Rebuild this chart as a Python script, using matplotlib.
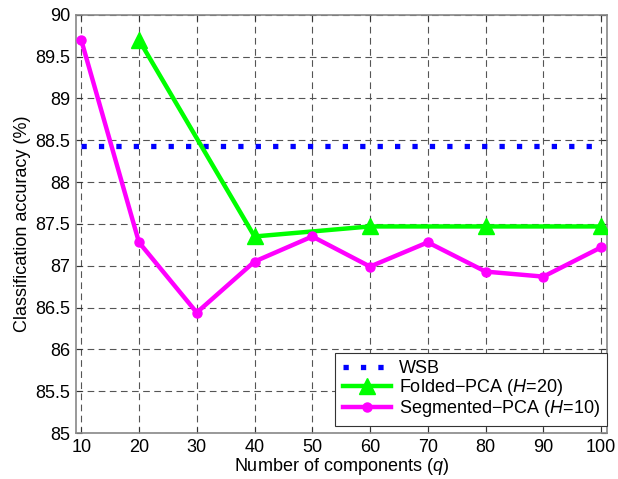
import numpy as np
import matplotlib.pyplot as plt

plt.rcParams['font.family'] = ['Liberation Sans', 'DejaVu Sans']
plt.rcParams['mathtext.fontset'] = 'custom'
plt.rcParams['mathtext.it'] = 'Liberation Sans:italic'
plt.rcParams['mathtext.rm'] = 'Liberation Sans'

# === DATA ===
q_all = [10, 20, 30, 40, 50, 60, 70, 80, 90, 100]
wsb_q = [10, 100]
wsb_acc = [88.43, 88.43]
folded_q = [20, 40, 60, 80, 100]
folded_acc = [89.70, 87.35, 87.47, 87.47, 87.47]
segmented_acc = [89.70, 87.28, 86.44, 87.05, 87.35, 86.99, 87.28, 86.93, 86.87, 87.22]

fig = plt.figure(figsize=(6.18, 4.79), dpi=100)
ax = fig.add_axes([0.123, 0.096, 0.859, 0.873])

ax.plot(wsb_q, wsb_acc, color='#0000ff', linestyle=(0, (1, 2.3)), linewidth=3.8,
        dash_capstyle='butt', label='WSB', zorder=3)
ax.plot(folded_q, folded_acc, color='#00ff00', linewidth=3.2, marker='^',
        markersize=11, label='Folded\u2212PCA ($\\mathit{H}$=20)', zorder=4)
ax.plot(q_all, segmented_acc, color='#ff00ff', linewidth=3.2, marker='o',
        markersize=6.5, label='Segmented\u2212PCA ($\\mathit{H}$=10)', zorder=5)

ax.set_xlim(9.1, 101)
ax.set_ylim(85, 90)
ax.set_xticks(q_all)
ax.set_yticks(np.arange(85, 90.01, 0.5))
ax.set_yticklabels(['85', '85.5', '86', '86.5', '87', '87.5', '88', '88.5', '89', '89.5', '90'])
ax.tick_params(direction='in', top=True, right=True, labelsize=13, length=4,
               color='#333333', pad=4)
ax.grid(True, color='#555555', linestyle=(0, (6, 4)), linewidth=0.8)
for s in ax.spines.values():
    s.set_color('#888888')
    s.set_linewidth(1.2)

ax.set_xlabel('Number of components ($\\mathit{q}$)', fontsize=13, labelpad=0)
ax.set_ylabel('Classification accuracy (%)', fontsize=13, labelpad=3)

leg = ax.legend(loc='lower right', bbox_to_anchor=(1.0, 0.016), fontsize=13,
                fancybox=False, framealpha=1, edgecolor='#333333', handlelength=2.7,
                borderaxespad=0, labelspacing=0.0, borderpad=0.4, handletextpad=0.4)
leg.get_frame().set_linewidth(0.8)

fig.savefig('out.png', dpi=100)
